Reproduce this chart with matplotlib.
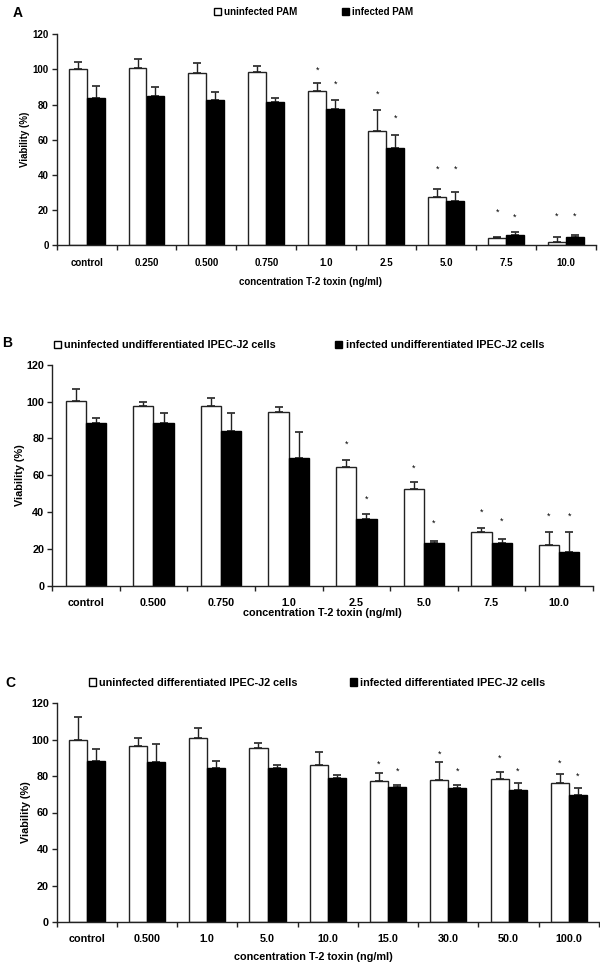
import numpy as np
import matplotlib
matplotlib.use("Agg")
import matplotlib.pyplot as plt
from matplotlib.patches import Patch
from matplotlib import font_manager

# ---------------- data ----------------
cats_a = ['control', '0.250', '0.500', '0.750', '1.0', '2.5', '5.0', '7.5', '10.0']
uninf_a = [100.2, 100.6, 97.7, 98.5, 87.7, 64.9, 27.1, 4.2, 1.7]
uninf_a_err = [3.8, 5.1, 5.7, 3.2, 4.5, 12.0, 4.8, 0.5, 2.8]
inf_a = [83.5, 85.0, 82.5, 81.2, 77.4, 55.4, 25.2, 5.7, 4.6]
inf_a_err = [7.0, 5.0, 4.8, 2.5, 5.3, 7.2, 5.0, 1.9, 1.1]
star_a_un = [np.nan, np.nan, np.nan, np.nan, 99.4, 86.0, 42.9, 18.8, 16.1]
star_a_in = [np.nan, np.nan, np.nan, np.nan, 91.8, 72.0, 42.9, 15.9, 16.1]
legend_a = ['uninfected PAM', 'infected PAM']

cats_b = ['control', '0.500', '0.750', '1.0', '2.5', '5.0', '7.5', '10.0']
uninf_b = [100.2, 97.6, 97.6, 94.2, 64.6, 52.8, 29.5, 22.2]
uninf_b_err = [6.7, 2.4, 4.6, 2.7, 3.8, 3.6, 1.8, 7.1]
inf_b = [88.6, 88.6, 84.1, 69.3, 36.2, 23.1, 23.5, 18.3]
inf_b_err = [2.4, 5.1, 9.9, 14.1, 3.0, 1.3, 2.0, 11.0]
star_b_un = [np.nan, np.nan, np.nan, np.nan, 76.7, 63.8, 40.0, 38.0]
star_b_in = [np.nan, np.nan, np.nan, np.nan, 47.0, 33.8, 34.9, 38.0]
legend_b = ['uninfected undifferentiated IPEC-J2 cells',
            'infected undifferentiated IPEC-J2 cells']

cats_c = ['control', '0.500', '1.0', '5.0', '10.0', '15.0', '30.0', '50.0', '100.0']
uninf_c = [100.0, 96.5, 100.7, 95.2, 85.9, 77.3, 77.8, 78.4, 76.3]
uninf_c_err = [12.3, 4.2, 5.5, 3.0, 7.5, 4.2, 9.7, 3.6, 4.6]
inf_c = [88.3, 87.9, 84.4, 84.4, 78.9, 73.8, 73.4, 72.5, 69.4]
inf_c_err = [6.6, 9.7, 3.7, 1.9, 1.9, 1.5, 1.9, 3.7, 3.9]
star_c_un = [np.nan, np.nan, np.nan, np.nan, np.nan, 86.6, 91.8, 89.6, 87.0]
star_c_in = [np.nan, np.nan, np.nan, np.nan, np.nan, 82.4, 82.6, 82.8, 80.0]
legend_c = ['uninfected differentiated IPEC-J2 cells',
            'infected differentiated IPEC-J2 cells']

xlabel = 'concentration T-2 toxin (ng/ml)'
ylabel = 'Viability (%)'
yticks = [0, 20, 40, 60, 80, 100, 120]

# ---------------- fonts ----------------
names = {f.name for f in font_manager.fontManager.ttflist}
narrow = ['Liberation Sans Narrow', 'Liberation Sans'] if 'Liberation Sans Narrow' in names else ['Liberation Sans']
regular = ['Liberation Sans', 'DejaVu Sans']
fs_a = 7.5 if 'Liberation Sans Narrow' in names else 7.0
fs_bc = 7.8

W, H = 600, 964
fig = plt.figure(figsize=(W / 100, H / 100), dpi=100)

EDGE = '#222222'


def px_axes(left, right, bottom, top):
    return fig.add_axes([left / W, 1 - bottom / H, (right - left) / W, (bottom - top) / H])


def panel(ax, cats, un, un_err, inf, inf_err, s_un, s_in, leg, family, fs,
          leg_anchor, colspace, ylab_x, xlab_y, xlab_x, tick_pad):
    n = len(cats)
    x = np.arange(n)
    w = 0.3
    ax.bar(x - w / 2, un, w, color='white', edgecolor=EDGE, linewidth=1.0, zorder=2)
    ax.bar(x + w / 2, inf, w, color='black', edgecolor='black', linewidth=1.0, zorder=2)
    ax.errorbar(x - w / 2, un, yerr=[np.zeros(n), un_err], fmt='none', ecolor=EDGE,
                elinewidth=1.0, capsize=3.2, capthick=1.2, zorder=1)
    ax.errorbar(x + w / 2, inf, yerr=[np.zeros(n), inf_err], fmt='none', ecolor=EDGE,
                elinewidth=1.0, capsize=3.2, capthick=1.2, zorder=1)
    for xi, s in zip(x - w / 2, s_un):
        if not np.isnan(s):
            ax.text(xi, s, '*', ha='center', va='center', fontsize=6.5, family=family)
    for xi, s in zip(x + w / 2, s_in):
        if not np.isnan(s):
            ax.text(xi, s, '*', ha='center', va='center', fontsize=6.5, family=family)

    ax.set_xlim(-0.5, n - 0.5)
    ax.set_ylim(0, 120)
    ax.set_yticks(yticks)
    ax.set_yticklabels([str(t) for t in yticks], family=family, fontsize=fs, fontweight='bold')
    ax.set_xticks(x)
    ax.set_xticklabels(cats, family=family, fontsize=fs, fontweight='bold')
    ax.set_xticks(np.arange(-0.5, n, 1.0), minor=True)
    ax.tick_params(axis='x', which='major', length=0, pad=tick_pad)
    ax.tick_params(axis='x', which='minor', length=3.5, width=1.0, color=EDGE, direction='out')
    ax.tick_params(axis='y', length=3.5, width=1.0, color=EDGE, pad=2)
    for side in ('top', 'right'):
        ax.spines[side].set_visible(False)
    for side in ('left', 'bottom'):
        ax.spines[side].set_color(EDGE)
        ax.spines[side].set_linewidth(1.0)
    ax.set_ylabel(ylabel, family=family, fontsize=fs, fontweight='bold', va='center')
    ax.yaxis.set_label_coords(ylab_x, 0.5)
    ax.set_xlabel(xlabel, family=family, fontsize=fs, fontweight='bold', va='center')
    ax.xaxis.set_label_coords(xlab_x, xlab_y)

    handles = [Patch(facecolor='white', edgecolor='black', linewidth=1.0),
               Patch(facecolor='black', edgecolor='black', linewidth=1.0)]
    ax.legend(handles, leg, ncol=2, loc='center left', bbox_to_anchor=leg_anchor,
              frameon=False, borderpad=0, borderaxespad=0, handlelength=0.65,
              handleheight=0.65, handletextpad=0.3, columnspacing=colspace,
              prop={'family': family, 'size': fs, 'weight': 'bold'})


# Panel A
axA = px_axes(56.6, 596, 245, 34.3)
hA = 245 - 34.3
panel(axA, cats_a, uninf_a, uninf_a_err, inf_a, inf_a_err, star_a_un, star_a_in,
      legend_a, narrow, fs_a, ((214.3 - 56.6) / 539.4, (245 - 11.7) / hA), 4.7,
      (25 - 56.6) / 539.4, -(281.7 - 245) / hA, 0.471, 9.5)

# Panel B
axB = px_axes(52, 593, 586, 364.7)
hB = 586 - 364.7
panel(axB, cats_b, uninf_b, uninf_b_err, inf_b, inf_b_err, star_b_un, star_b_in,
      legend_b, regular, fs_bc, ((53.6 - 52) / 541, (586 - 345) / hB), 5.5,
      (20 - 52) / 541, -(613 - 586) / hB, 0.5, 8.5)

# Panel C
axC = px_axes(56.6, 599, 922, 703)
hC = 922 - 703
panel(axC, cats_c, uninf_c, uninf_c_err, inf_c, inf_c_err, star_c_un, star_c_in,
      legend_c, regular, fs_bc, ((89.2 - 56.6) / 542.4, (922 - 682.7) / hC), 4.8,
      (26 - 56.6) / 542.4, -(956.7 - 922) / hC, 0.474, 9.0)

# Panel letters
fig.text(18 / W, 1 - 13.3 / H, 'A', ha='center', va='center', fontsize=10,
         fontweight='bold', family=regular)
fig.text(7 / W, 1 - 343 / H, 'B', ha='center', va='center', fontsize=10,
         fontweight='bold', family=regular)
fig.text(10 / W, 1 - 683 / H, 'C', ha='center', va='center', fontsize=10,
         fontweight='bold', family=regular)

fig.savefig('out.png', dpi=100, facecolor='white')
